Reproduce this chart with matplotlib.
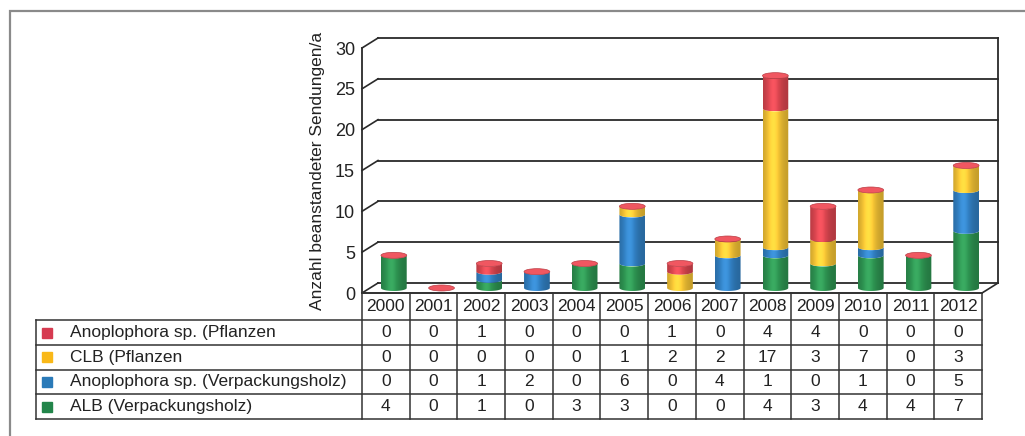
import numpy as np
import matplotlib
matplotlib.use("Agg")
import matplotlib.pyplot as plt
from matplotlib.patches import Rectangle, Ellipse, PathPatch
from matplotlib.path import Path
from matplotlib.colors import to_rgb

plt.rcParams['font.family'] = ['Liberation Sans', 'DejaVu Sans']

# beanstandete Sendungen je Jahr
years = [str(y) for y in range(2000, 2013)]
anoplophora_pflanzen = [0, 0, 1, 0, 0, 0, 1, 0, 4, 4, 0, 0, 0]
clb_pflanzen = [0, 0, 0, 0, 0, 1, 2, 2, 17, 3, 7, 0, 3]
anoplophora_holz = [0, 0, 1, 2, 0, 6, 0, 4, 1, 0, 1, 0, 5]
alb_holz = [4, 0, 1, 0, 3, 3, 0, 0, 4, 3, 4, 4, 7]

labels = ["Anoplophora sp. (Pflanzen", "CLB (Pflanzen",
          "Anoplophora sp. (Verpackungsholz)", "ALB (Verpackungsholz)"]
rows = [anoplophora_pflanzen, clb_pflanzen, anoplophora_holz, alb_holz]
colors = ["#dc4650", "#f6c535", "#3281c4", "#2e9552"]
legend_colors = ["#d63a50", "#f9b818", "#2a7ab8", "#22854a"]

W, H = 1025, 436
fig = plt.figure(figsize=(W / 100, H / 100), dpi=100)
fig.patch.set_facecolor("white")

# outer frame
fig.add_artist(Rectangle((10 / W, -0.02), 1.05, (H - 11) / H + 0.02,
                         transform=fig.transFigure, fill=False,
                         edgecolor="#8a8a8a", lw=1.6))

# ---- chart ----
x0, x1, yb, yt = 362, 982, 293, 48
ax = fig.add_axes([x0 / W, (H - yb) / H, (x1 - x0) / W, (yb - yt) / H])
ncol = len(years)
col_px = (x1 - x0) / ncol
px_per_val = (yb - yt) / 30
dx = 16 / col_px          # depth offset in category units
dy = 10 / px_per_val      # depth offset in value units
ax.set_xlim(-0.5, ncol - 0.5)
ax.set_ylim(0, 30)
for s in ax.spines.values():
    s.set_visible(False)
ax.set_xticks([])
ax.set_yticks(range(0, 31, 5))
ax.tick_params(axis='y', length=0, pad=5, labelsize=13, labelcolor="#222")
ax.set_ylabel("Anzahl beanstandeter Sendungen/a", fontsize=12.5,
              color="#222", labelpad=7)
ax.patch.set_alpha(0)

lc = "#2a2a2a"
L, R = -0.5, ncol - 0.5
for v in range(0, 31, 5):
    ax.plot([L + dx, R + dx], [v + dy, v + dy], color=lc, lw=1.3,
            clip_on=False, zorder=1)
    ax.plot([L, L + dx], [v, v + dy], color=lc, lw=1.2, clip_on=False, zorder=1)
ax.plot([L, L], [0, 30], color=lc, lw=1.3, clip_on=False, zorder=1)
ax.plot([R + dx, R + dx], [dy, 30 + dy], color=lc, lw=1.3, clip_on=False, zorder=1)
ax.plot([R, R + dx], [0, dy], color=lc, lw=1.2, clip_on=False, zorder=1)
ax.plot([L, R], [0, 0], color=lc, lw=1.3, clip_on=False, zorder=1)

# cylinders
bw = 0.27            # half width in category units
eb = 3.0 / px_per_val  # half height of the ellipses
base = dy / 2
t = np.linspace(0, 1, 64)
shade = 0.8 + 0.3 * np.exp(-((t - 0.4) / 0.3) ** 2)


def arc(cx, y, start, stop):
    th = np.linspace(start, stop, 30)
    return np.column_stack([cx + bw * np.cos(th), y + eb * np.sin(th)])


stack_order = [alb_holz, anoplophora_holz, clb_pflanzen, anoplophora_pflanzen]
stack_colors = colors[::-1]
for i in range(ncol):
    cx = i + dx / 2
    bottom = base
    for vals, c in zip(stack_order, stack_colors):
        v = vals[i]
        if v == 0:
            continue
        top = bottom + v
        pts = np.vstack([arc(cx, bottom, np.pi, 2 * np.pi),
                         arc(cx, top, 2 * np.pi, np.pi)])
        patch = PathPatch(Path(np.vstack([pts, pts[:1]]), closed=True),
                          facecolor="none", edgecolor="none")
        ax.add_patch(patch)
        rgb = np.array(to_rgb(c))
        grad = np.clip(rgb[None, :] * shade[:, None]
                       + 0.3 * np.clip(shade[:, None] - 1, 0, 1), 0, 1)
        im = ax.imshow(grad[None, :, :], extent=[cx - bw, cx + bw, bottom - eb, top],
                       aspect='auto', interpolation='bilinear', zorder=3)
        im.set_clip_path(patch)
        bottom = top
    cap = np.clip(np.array(to_rgb(colors[0])) * 1.02 + 0.06, 0, 1)
    ax.add_patch(Ellipse((cx, bottom), 2 * bw, 2 * eb, facecolor=cap,
                         edgecolor=np.array(to_rgb(colors[0])) * 0.85, lw=0.5,
                         zorder=4))
ax.set_xlim(-0.5, ncol - 0.5)
ax.set_ylim(0, 30)

# ---- data table ----
tx0, ty0, ty1 = 36, 293, 419
tab = fig.add_axes([tx0 / W, (H - ty1) / H, (x1 - tx0) / W, (ty1 - ty0) / H])
lab_w = (x0 - tx0) / col_px
head_h = 1.1
nrow = len(rows)
tab.set_xlim(-0.5 - lab_w, ncol - 0.5)
tab.set_ylim(head_h + nrow, 0)
tab.axis('off')
tc = "#333333"
fs = 12.5
# header
for j, yr in enumerate(years):
    tab.text(j, head_h / 2, yr, ha='center', va='center', fontsize=fs, color="#222")
for j in range(ncol + 1):
    tab.plot([j - 0.5, j - 0.5], [0, head_h + nrow], color=tc, lw=1.1, clip_on=False)
tab.plot([-0.5 - lab_w, -0.5 - lab_w], [head_h, head_h + nrow], color=tc, lw=1.1,
         clip_on=False)
tab.plot([-0.5, ncol - 0.5], [0, 0], color=tc, lw=1.1, clip_on=False)
for r in range(nrow + 1):
    tab.plot([-0.5 - lab_w, ncol - 0.5], [head_h + r, head_h + r], color=tc,
             lw=1.1, clip_on=False)
for r, (name, vals, mc) in enumerate(zip(labels, rows, legend_colors)):
    yc = head_h + r + 0.5
    tab.plot(-0.5 - lab_w + 0.23, yc, marker='s', markersize=6.5, color=mc,
             clip_on=False)
    tab.text(-0.5 - lab_w + 0.72, yc, name, ha='left', va='center', fontsize=fs,
             color="#222")
    for j, v in enumerate(vals):
        tab.text(j, yc, str(v), ha='center', va='center', fontsize=fs, color="#222")

fig.savefig("out.png", dpi=100)
